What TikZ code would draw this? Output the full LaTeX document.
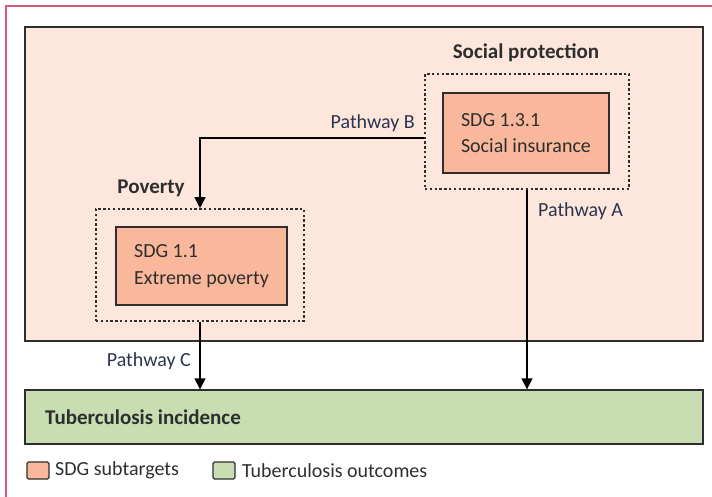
\documentclass[tikz,border=0pt]{standalone}
\usepackage{fontspec}
\setmainfont{Carlito}
\usepackage{xcolor}
\usetikzlibrary{arrows.meta}
\definecolor{panelfill}{HTML}{FDE6DB}
\definecolor{sdgfill}{HTML}{F9B79B}
\definecolor{tbfill}{HTML}{C8DDB1}
\definecolor{boxline}{HTML}{2E2E2E}
\definecolor{framepink}{HTML}{D25A78}
\definecolor{labelblue}{HTML}{2C3550}

\tikzset{
  base/.style={font=\fontsize{20}{26.5}\selectfont, text=boxline},
  panelbox/.style={draw=boxline, line width=1.3pt, fill=panelfill},
  tbbox/.style={draw=boxline, line width=1.3pt, fill=tbfill, minimum width=678pt, minimum height=54pt},
  groupbox/.style={draw=boxline, line width=1.6pt, dash pattern=on 2.4pt off 2.4pt},
  sdgbox/.style={base, draw=boxline, line width=1.3pt, fill=sdgfill, align=left},
  grouplabel/.style={base, font=\fontsize{21}{27}\selectfont\bfseries},
  pathlabel/.style={base, text=labelblue, inner sep=0pt},
  arr/.style={-{Triangle[width=11pt,length=11pt]}, line width=1.3pt, draw=black},
  swatch/.style={draw=boxline, line width=1.3pt, rounded corners=1.5pt, minimum width=22pt, minimum height=17pt, inner sep=0pt},
}

\begin{document}
\begin{tikzpicture}[x=1pt, y=-1pt]
  \useasboundingbox (0,0) rectangle (712,497);
  % Figure frame (cut at right and bottom)
  \draw[framepink, line width=1.5pt] (6,497) -- (6,6) -- (712,6);

  % Background panel and outcome bar
  \node[panelbox, minimum width=678pt, minimum height=314pt] (panel) at (364,184) {};
  \node[tbbox] (tbinc) at (364,417) {};
  \node[grouplabel, anchor=west, inner sep=0pt] (tblabel) at (45,417) {Tuberculosis incidence};

  % Social protection group
  \node[groupbox, minimum width=204pt, minimum height=115pt] (spgroup) at (527,131.5) {};
  \node[sdgbox, minimum width=166pt, minimum height=80pt] (sdg131) at (526,133) {SDG 1.3.1\\Social insurance};
  \node[grouplabel] (splabel) at (526,53) {Social protection};

  % Poverty group
  \node[groupbox, minimum width=208pt, minimum height=112pt] (povgroup) at (200,265) {};
  \node[sdgbox, minimum width=171pt, minimum height=78pt] (sdg11) at (201.5,266) {SDG 1.1\\Extreme poverty};
  \node[grouplabel] (povlabel) at (151,188) {Poverty};

  % Pathways
  \draw[arr] ([yshift=-6.5pt]spgroup.west) -| (povgroup.north);
  \draw[arr] (spgroup.south) -- (spgroup.south |- tbinc.north);
  \draw[arr] (povgroup.south) -- (povgroup.south |- tbinc.north);
  \node[pathlabel, anchor=east] (pathb) at (415,123) {Pathway B};
  \node[pathlabel, anchor=west] (patha) at (538,211) {Pathway A};
  \node[pathlabel, anchor=east] (pathc) at (191,361) {Pathway C};

  % Legend
  \node[swatch, fill=sdgfill] (legsdg) at (38,470.5) {};
  \node[base, anchor=west, inner sep=0pt] (legsdgtxt) at (55,470.5) {SDG subtargets};
  \node[swatch, fill=tbfill] (legtb) at (224,470.5) {};
  \node[base, anchor=west, inner sep=0pt] (legtbtxt) at (242,470.5) {Tuberculosis outcomes};
\end{tikzpicture}
\end{document}
